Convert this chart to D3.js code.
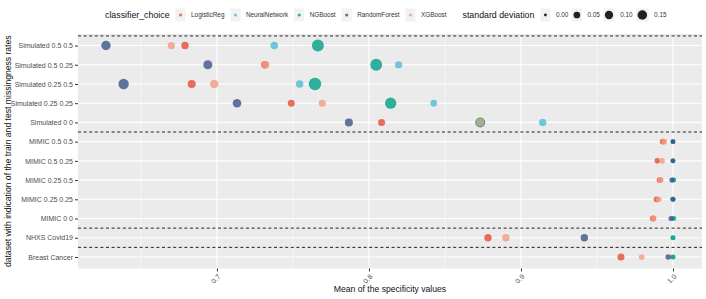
<!DOCTYPE html>
<html>
<head>
<meta charset="utf-8">
<script src="https://cdn.jsdelivr.net/npm/d3@7"></script>
<style>
  body{margin:0;background:#fff;}
  text{font-family:"Liberation Sans",Arial,Helvetica,sans-serif;}
</style>
</head>
<body>
<svg id="chart" width="706" height="299"></svg>
<script>
// rows, top to bottom
const rows = ['Simulated 0.5 0.5','Simulated 0.5 0.25','Simulated 0.25 0.5','Simulated 0.25 0.25','Simulated 0 0',
  'MIMIC 0.5 0.5','MIMIC 0.5 0.25','MIMIC 0.25 0.5','MIMIC 0.25 0.25','MIMIC 0 0','NHXS Covid19','Breast Cancer'];
const classifiers = ['LogisticReg','NeuralNetwork','NGBoost','RandomForest','XGBoost'];
const colors = ['#E64B35','#4DBBD5','#00A087','#3C5488','#F39B7F'];

// mean specificity per row (same order as rows)
const logRegMean = [0.679,0.7315,0.6834,0.7489,0.8083,0.9932,0.9897,0.9912,0.9892,0.9868,0.8783,0.9658];
const nnMean     = [0.7377,0.8195,0.7544,0.8426,0.9143,1.0,1.0,1.0,1.0,1.0,1.0,1.0];
const ngbMean    = [0.7664,0.8048,0.7645,0.8143,0.8732,1.0,1.0,1.0005,1.0,1.0005,1.0,1.0];
const rfMean     = [0.627,0.694,0.6386,0.7132,0.7868,1.0,1.0,0.9993,1.0,0.9987,0.9417,0.9969];
const xgbMean    = [0.670,0.732,0.6982,0.7693,0.8732,0.9942,0.9928,0.9918,0.9905,0.9872,0.8901,0.9794];
// standard deviations
const logRegSd = [0.07,0.07,0.09,0.055,0.06,0.025,0.025,0.03,0.03,0.035,0.07,0.06];
const nnSd     = [0.075,0.065,0.075,0.05,0.07,0.01,0.01,0.01,0.01,0.01,0.01,0.01];
const ngbSd    = [0.28,0.27,0.31,0.24,0.17,0.015,0.015,0.015,0.015,0.015,0.016,0.016];
const rfSd     = [0.144,0.13,0.19,0.11,0.09,0.015,0.015,0.018,0.016,0.017,0.07,0.025];
const xgbSd    = [0.065,0.07,0.11,0.06,0.076,0.03,0.03,0.035,0.03,0.03,0.07,0.026];

const xTicks = [0.7,0.8,0.9,1.0];
const xMinor = [0.65,0.75,0.85,0.95];
const sdBreaks = [0.00,0.05,0.10,0.15];
// dashed separators between dataset groups (after these rows)
const groupEnds = ['Simulated 0 0','MIMIC 0 0','NHXS Covid19'];

const means = [logRegMean,nnMean,ngbMean,rfMean,xgbMean];
const sds = [logRegSd,nnSd,ngbSd,rfSd,xgbSd];

const svg = d3.select('#chart');
const P = {left:78, right:702, top:34, bottom:268.5};

const x = d3.scaleLinear().domain([0.6086,1.0191]).range([P.left,P.right]);
const y = d3.scalePoint().domain(rows).range([P.top,P.bottom]).padding(0.6);
const r = d3.scaleSqrt().domain([0,0.28]).range([1.4,6]);
const col = d3.scaleOrdinal().domain(classifiers).range(colors);

// panel
svg.append('rect').attr('x',P.left).attr('y',P.top)
  .attr('width',P.right-P.left).attr('height',P.bottom-P.top).attr('fill','#EBEBEB');

const grid = svg.append('g');
grid.selectAll('.minor').data(xMinor).enter().append('line')
  .attr('x1',d=>x(d)).attr('x2',d=>x(d)).attr('y1',P.top).attr('y2',P.bottom)
  .attr('stroke','#fff').attr('stroke-width',0.5);
grid.selectAll('.hy').data(rows).enter().append('line')
  .attr('x1',P.left).attr('x2',P.right).attr('y1',d=>y(d)).attr('y2',d=>y(d))
  .attr('stroke','#fff').attr('stroke-width',1.1);
grid.selectAll('.major').data(xTicks).enter().append('line')
  .attr('x1',d=>x(d)).attr('x2',d=>x(d)).attr('y1',P.top).attr('y2',P.bottom)
  .attr('stroke','#fff').attr('stroke-width',1.1);

// dashed separators
const step = y.step();
const sepY = [y(rows[0]) - step/2].concat(groupEnds.map(g=>y(g)+step/2));
svg.append('g').selectAll('line').data(sepY).enter().append('line')
  .attr('x1',P.left).attr('x2',P.right).attr('y1',d=>d).attr('y2',d=>d)
  .attr('stroke','#222').attr('stroke-width',1).attr('stroke-dasharray','3,2.6');

// points
const pts = [];
classifiers.forEach((c,i)=>{
  rows.forEach((row,j)=>pts.push({c, row, v:means[i][j], sd:sds[i][j]}));
});
svg.append('g').selectAll('circle').data(pts).enter().append('circle')
  .attr('cx',d=>x(d.v)).attr('cy',d=>y(d.row)).attr('r',d=>r(d.sd))
  .attr('fill',d=>col(d.c)).attr('fill-opacity',0.8);

// axes
const yAxis = svg.append('g').attr('transform','translate('+P.left+',0)')
  .call(d3.axisLeft(y).tickSize(3).tickPadding(2));
const xAxis = svg.append('g').attr('transform','translate(0,'+P.bottom+')')
  .call(d3.axisBottom(x).tickValues(xTicks).tickSize(3).tickFormat(d3.format('.1f')));
[yAxis,xAxis].forEach(a=>{
  a.select('.domain').remove();
  a.selectAll('line').attr('stroke','#333');
  a.selectAll('text').attr('fill','#4D4D4D').style('font-size','7px');
});
xAxis.selectAll('text')
  .attr('text-anchor','end').attr('dy',null).attr('y',null)
  .attr('transform','translate(3.5,8.5) rotate(-45)');

svg.append('text').attr('x',(P.left+P.right)/2).attr('y',292)
  .attr('text-anchor','middle').style('font-size','8.6px').attr('fill','#111')
  .text('Mean of the specificity values');
svg.append('text').attr('transform','translate(11,'+((P.top+P.bottom)/2)+') rotate(-90)')
  .attr('text-anchor','middle').style('font-size','8.6px').attr('fill','#111')
  .text('dataset with indication of the train and test missingness rates');

// legend
const lg = svg.append('g');
const ly = 15;
let lx = 105;
function title(t){
  const e = lg.append('text').attr('x',lx).attr('y',ly+3).style('font-size','8.8px').attr('fill','#111').text(t);
  lx += e.node().getComputedTextLength() + 6;
}
function item(label,rad,fill,op,gap){
  const hw = Math.max(5,rad+1.5);
  lg.append('rect').attr('x',lx).attr('y',ly-6.5).attr('width',2*hw).attr('height',13).attr('fill','#F2F2F2');
  lg.append('circle').attr('cx',lx+hw).attr('cy',ly).attr('r',rad).attr('fill',fill).attr('fill-opacity',op);
  lx += 2*hw + 5.5;
  const e = lg.append('text').attr('x',lx).attr('y',ly+2.3).style('font-size','6.4px').attr('fill','#333').text(label);
  lx += e.node().getComputedTextLength() + gap;
}
title('classifier_choice');
classifiers.forEach(c=>item(c,1.6,col(c),0.8,6));
lx += 10;
title('standard deviation');
sdBreaks.forEach(b=>item(d3.format('.2f')(b),r(b),'#222',1,3.5));
</script>
</body>
</html>
